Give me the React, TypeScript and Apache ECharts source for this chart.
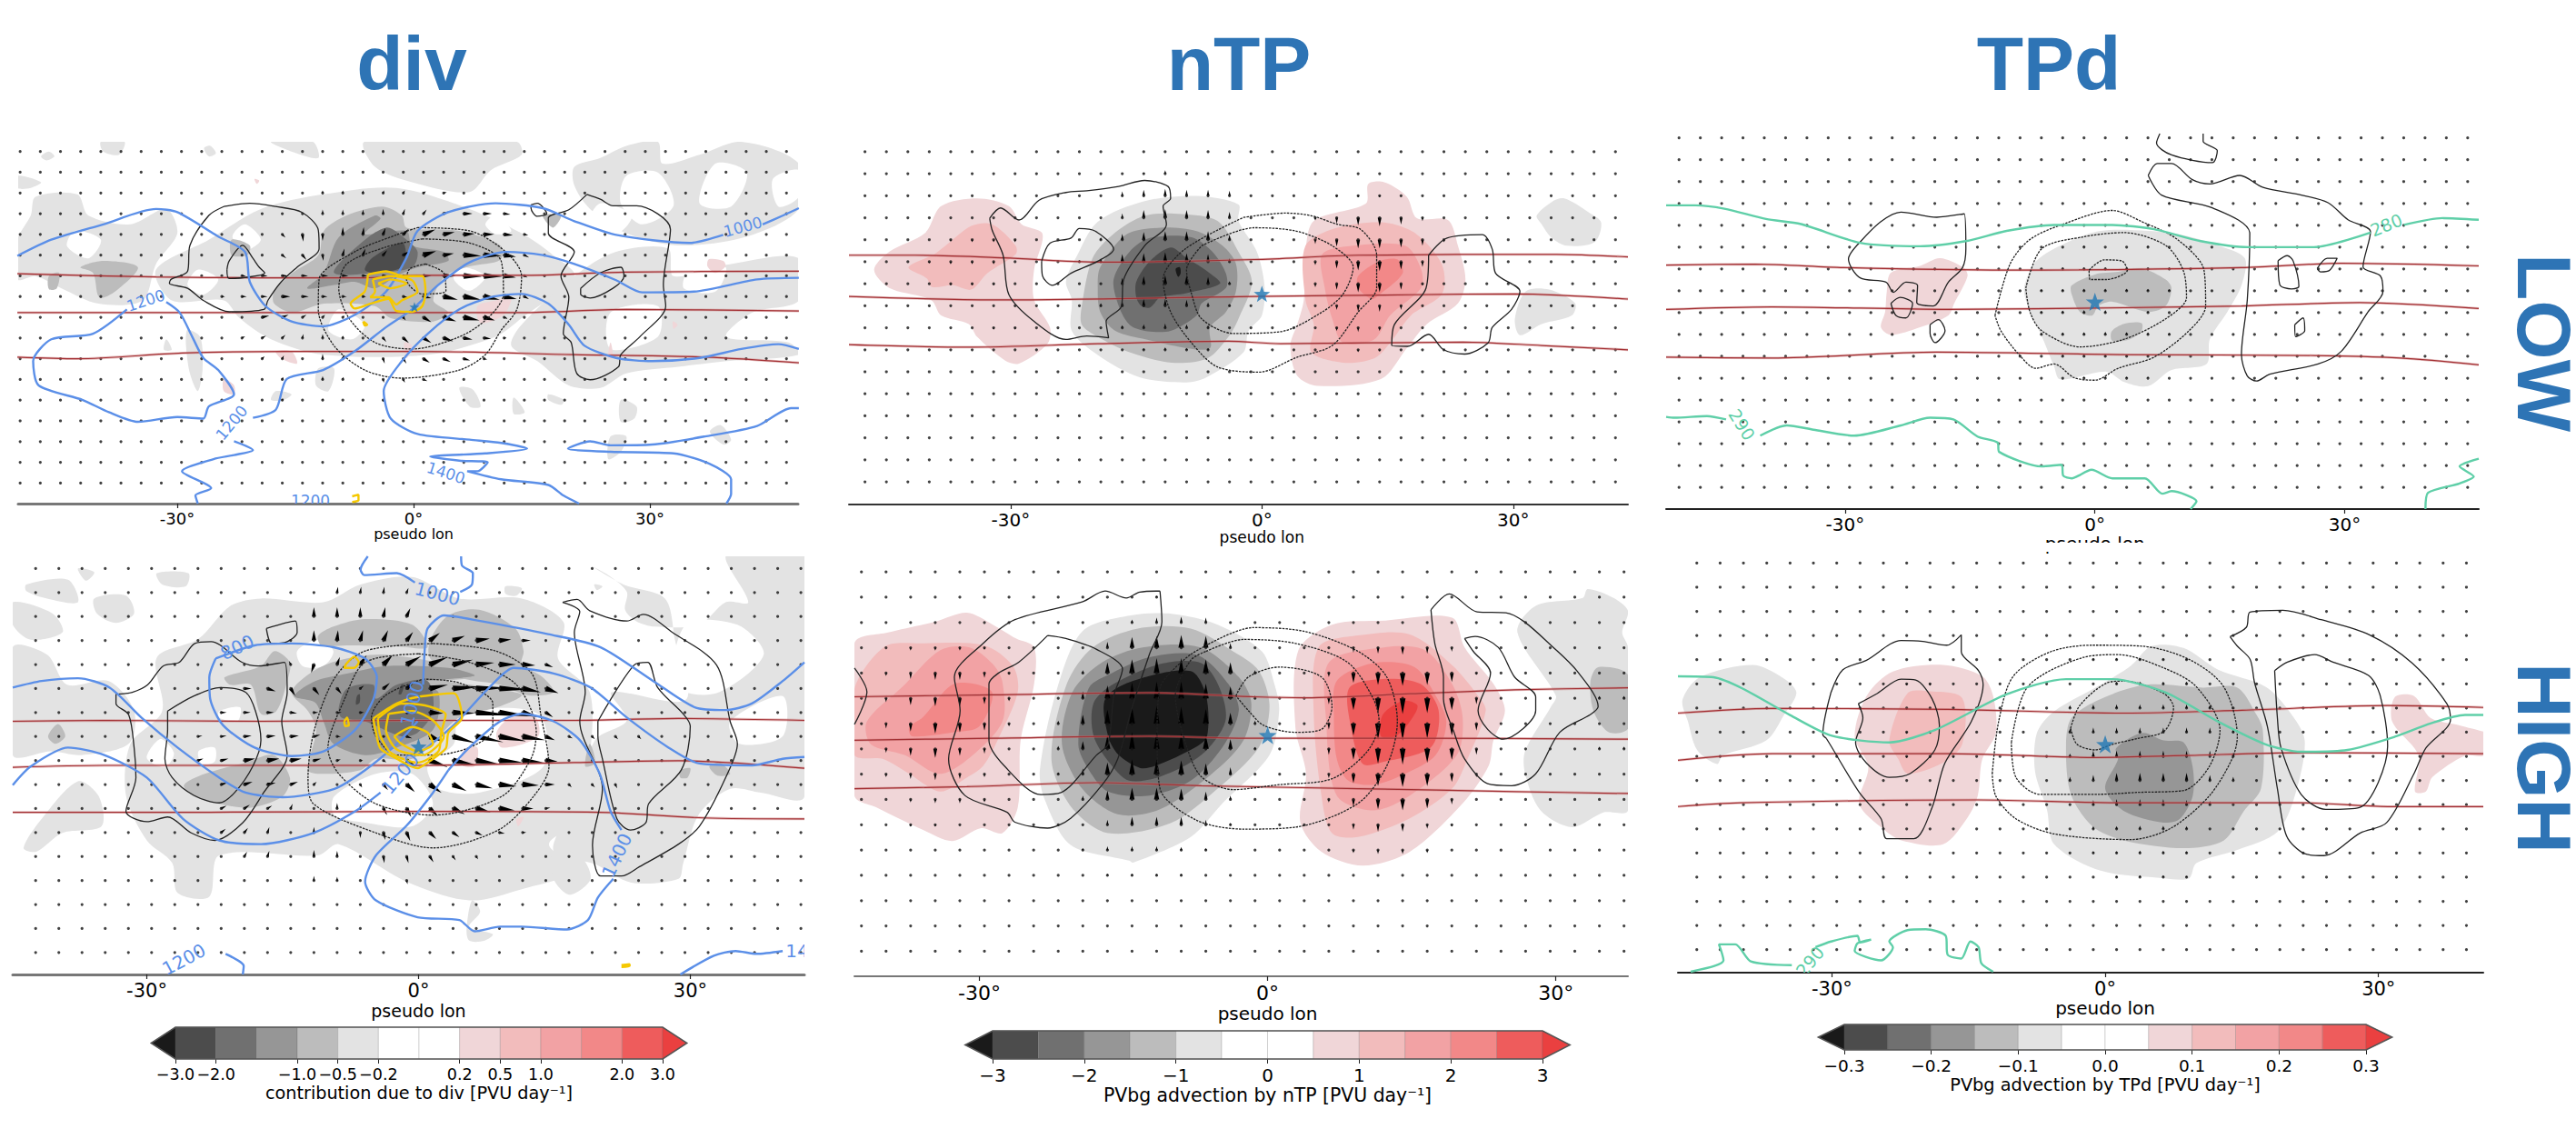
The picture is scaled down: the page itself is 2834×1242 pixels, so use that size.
import React, { useEffect, useRef } from "react";
import * as echarts from "echarts";

const gridLons = [-49.95,-47.39,-44.83,-42.27,-39.71,-37.15,-34.59,-32.03,-29.47,-26.91,-24.35,-21.79,-19.23,-16.67,-14.11,-11.55,-8.99,-6.43,-3.87,-1.31,1.25,3.81,6.37,8.93,11.49,14.05,16.61,19.17,21.73,24.29,26.85,29.41,31.97,34.53,37.09,39.65,42.21,44.77,47.33];
const gridLats = [19.2,16.64,14.08,11.52,8.96,6.4,3.84,1.28,-1.28,-3.84,-6.4,-8.96,-11.52,-14.08,-16.64,-19.2,-21.76];

const g1 = "#e3e3e3", g2 = "#bcbcbc", g3 = "#969696", g4 = "#707070", g5 = "#4c4c4c", g6 = "#1a1a1a";
const p1 = "#f0d6d8", p2 = "#f2bcbc", p3 = "#f2a2a4", p4 = "#f28888", p5 = "#ee5c5c", p6 = "#ea4040", wh = "#ffffff";

/* ---------- div, low ---------- */
const divLowG1 = [
[-19.4,12.1,-11.5,13.9,-2.2,14.7,7.1,12.1,13.7,9.1,17.7,6.4,20.4,3.8,13.7,-1.4,10.4,-3.7,1.8,-5.9,-11.5,-5.9,-18.1,-4,-22.1,-1.4,-24.1,.8,-30.7,.8,-32.7,4.6,-26,8.3],
[-48.6,11.3,-48,13.6,-42.7,13.9,-41.3,11.3,-36,10.2,-31.4,12.1,-30,9.1,-32.7,5.3,-34.4,.8,-40,.4,-44.7,2.3,-48,3.8,-50.3,3.4,-50.3,8.3],
[20.4,17.3,23.7,18.4,27,19.9,31,20.4,31.6,17.7,36.3,18.8,41.6,20.4,48.9,17.7,48.9,12.1,42.3,8.7,33.6,7.6,27,9.1,22.4,12.1,20.4,15],
[13.7,-2.2,20.4,3.8,25.7,6.8,32.3,7.2,33,3.8,40.3,5.3,48.9,6,48.9,.8,43,-.7,39.7,-3.7,47.6,-4.4,48.9,-5.9,39.7,-6.7,33.6,-7.4,27,-8.2,23.7,-10,19.7,-9.7,15.7,-6.7,12.4,-4.8],
[-6.2,20.4,13.1,20.4,13.7,18.8,9.8,16.9,7.1,14.2,-.2,15.4,-4.9,17.3],
[-39.7,20.4,-36.7,20.4,-37.4,18.8,-39.4,19.2],[-26.6,19.6,-25.8,19.9,-25.1,19,-26,18.6],[-47.3,18.6,-46.3,19.2,-45.6,18.6,-46.6,18.1],
[-18.1,20.4,-12.8,20.4,-12.1,18.4,-15.5,19.2],[-50.3,16.2,-47.3,15.4,-48.6,14.7,-50.3,14.7],
[-7.5,-16.8,-5.9,-17],[5.8,-10,7.5,-10.2,8.5,-12.3,7.1,-12.3],[12.7,-11.2,14.1,-13,12.7,-13.2],[26.3,-11.5,28.3,-12.3,28,-13.8,26.3,-14.2],
[25,-16,27,-16,26.3,-17.9,24.7,-18.8],[39,-14.6,40.3,-16.4,39.3,-17,37.6,-15.4],[-17.5,-10.4,-15.5,-10.8,-16.5,-11.5,-18.1,-11.5],
[-12.1,-7.6,-10.1,-7.6,-10.8,-10.4,-12.4,-9.7],[-28.8,-2.9,-27.1,-3.7,-26.8,-7.8,-27.4,-10.4,-28.5,-7.8],[-31.4,-4,-30.7,-5.3,-31.7,-5.3],[17.1,-10.8,19.1,-11.5,18.7,-12.1,17.1,-11.5],
];
const divLowHoles = [[-21.4,10.2,-19.4,8.3,-21.4,7,-23,8.7],[10.4,11.3,12.4,9.4,10.4,9,9.1,10.2],[-9.5,-.3,-6.2,-2.2,-7.8,-4,-10.8,-2.9],[5.8,5,9.1,3.8,7.1,2,5.1,3.4],[-27.4,4.6,-24.8,3.4,-26.7,1.5,-28.7,2.7],[-43,9.4,-39.7,8.3,-41.3,6,-44,7.5],[23.7,12.8,27.7,11.3,25.7,9,22.4,10.6],
[27,16.2,31,16.6,33,12.5,29,10.2,26.3,12.8],[38.3,17.7,42.3,16.6,40.3,12.4,36.3,12.8],[45.6,15.8,48.9,16.9,48.9,13.6,46.3,12.4],[35,4.6,39.6,4.9,38.3,1.9,34.3,2.3],[25,-.7,31,.1,31,-3.7,25,-5.2]];
const divLowG2 = [
[-17.7,1.9,-15.4,4.2,-12.1,6.4,-11.4,9.4,-8.5,11.3,-4,12.4,-1.5,11.3,-.9,9.8,5.8,9.4,11,7.6,11,5.8,7.1,5,4,3.8,2.5,.8,4.4,-.7,2.5,-1.8,-2.9,-1.4,-4.9,.1,-11.4,.4,-15.4,-.7,-17.7,.4],
[-42.3,4.9,-39.4,5.7,-35,4.9,-37.9,1.9,-39.9,1.2,-40.7,4.2],[-23.1,8.3,-20.8,7.6,-21.1,6.4,-23.1,6.4],[16.4,11.3,18.7,11.3,17.7,9.8],[-46.3,3.8,-45,4.2,-45.3,2.3,-46.3,2.2],
];
const divLowG3 = [[-13.5,2.3,-11.4,4.2,-9.5,8.6,-4.9,11.3,-4.2,10.9,-6.2,9,-.9,9.4,-.2,7.6,3.8,6.8,4.4,5.7,.5,4.9,-2.2,3.8,-4.9,2.3,-7.5,3.1,-10.1,2.7]];
const divLowG4 = [[-10.1,4.2,-7.5,7.2,-3.5,9.8,-.9,8.3,.5,6.8,-.2,4.9,-4.9,4.2]];
const divLowG5 = [[-6.2,4.6,-5.2,6.1,-1.5,8,-1,6.9,-1.5,4.9,-4.9,4.2]];
const divLowP1 = [[37.5,5.9,39.3,5.7,39.6,5,38.3,4.2,37.3,5],[8.1,.1,10.4,.8,12.4,1.2,11.4,-1,8.5,-2],[-17.5,-5.5,-15.5,-5.5,-14.8,-7,-16.8,-6.4],[-24.1,-8.9,-22.8,-9.7,-22.8,-10.8,-24.1,-10.4],[-20.2,15.8,-19.6,15.6,-19.9,15.2],[32.9,-1.8,33.5,-2.2,33,-2.7],[25,-4.4,25.3,-6.3,24.7,-6.3],[-1.2,-4.4,-.2,-4.8,-.9,-6.3]];
const divLowSolid = [
[-24.1,12.4,-20.8,12.8,-17.5,12.4,-14.2,11.7,-12.1,9.5,-12,7.2,-14.8,4.9,-16.8,3.1,-18.5,.8,-19,-.3,-23.4,-.6,-26.7,.8,-28.7,2.3,-31,2.9,-30.8,3.4,-28.7,4.4,-28.4,7.6,-26,11.3],
[-23.7,4.6,-23.4,5.7,-21.7,7.6,-20.4,6,-19.6,4.9,-18.9,4.2,-23.4,3.5],
[22,13.9,23.7,13.3,25.3,12.5,28.3,12.5,32.6,9.6,31.7,2.7,32,.1,28.7,-3.7,26.3,-5.9,26,-7.4,22.4,-9,20.7,-8.2,20,-4.4,19,-3.3,19.7,1.2,18.7,3.8,20.4,6.8,17.1,9.1,17.1,11,19.7,12],
[21.2,2.3,23.7,4.2,26.3,4.9,26.7,3.8,25.3,2.3,22.4,1.1,21.2,1.6],
[14.9,12.6,15.7,12.8,16.9,11.5,15.7,11.2,14.9,12.2],
];
const divLowDotted = [
[.5,9.8,7.1,9.4,11.7,6.8,13.7,3.8,13.1,-.3,11.1,-2.9,9.1,-5.9,5.8,-7.8,-1.5,-8.8,-6.2,-7.8,-10.1,-4.8,-12.1,-.3,-12,3.4,-7.5,6.8,-2.2,8.9],
[1.1,8.4,7.1,7.9,11.1,5.7,11.4,1.6,9.4,-1.4,5.8,-3.7,-.2,-5.2,-4.9,-4.4,-8.2,-1.4,-9.5,2.3,-8.5,5.3,-3.5,7.4],
[1.5,5.3,3.8,4.2,4.1,2,1.1,1.6,-.9,3.4,-.5,4.7],
];
const divLowBlue = [
[-50.3,6.3,-46,8.3,-39.4,10.2,-32.7,12.1,-30,11.7,-24.8,8.7,-21.4,6.8,-20.8,3.1,-18.8,.1,-15.5,-1.8,-11.5,-2.4,-7.5,-1,-3.5,1.9,-.9,6.1,.5,9.4,4.4,11.7,10.4,12.8,16.4,12.2,20.4,10.6,25.7,8.9,35,7.9,39.3,8.9],
[44.3,10.2,46.9,11.3,48.9,12.2],
[48.9,3.6,43.6,3.4,35.6,1.9,29,1.8,25.7,3.3,20.4,5.3,16.4,6.4,11.7,6.8,7.1,5.5,3.1,2.7,-.2,-.3,-3.5,-2.5,-7.5,-5.5,-11.5,-7.8,-16.1,-8.9,-17.5,-12.7,-20.4,-13.7],
[-22.8,-16.6,-20.4,-17.7,-22.8,-18.3,-25.4,-18.8,-29.4,-20.3,-25.7,-22.4,-27.7,-23.3,-27.4,-24.3],
[-36.4,-.3,-40.7,-3.3,-46,-4,-48.3,-6.7,-47.6,-9.7,-42,-11.5,-38.7,-13,-35,-14.2,-30,-13.6,-26.7,-13.8,-26,-12.3,-22.8,-10.8,-24.8,-7.8,-26.7,-6.3,-28.1,-3.7,-29.7,-.7,-31.4,.6],
[48.9,-5.2,46.3,-4.6,41.6,-5.2,36.3,-6.3,30.3,-6.7,25.7,-6.3,21.7,-4.8,19.7,-2.2,17.1,.4,13.7,1.6,9.8,1.2,5.8,-.3,1.8,-3.3,-1.5,-6.7,-3.8,-10.4,-2.9,-13.8,.5,-15.7,7.1,-16.4,11.1,-16.8,14.4,-17.5,9.1,-18.1,2.1,-18.5,5.8,-19,9.4,-19.2,8.1,-20.3,6.8,-20.3,11.1,-21.3,17.1,-22,19,-23.3,21,-24.3],
[48.9,-12.5,47.9,-12.5,43.6,-14.7,37,-16,30.3,-17,25,-17.1,22.4,-16.6,19.6,-17.5,25,-17.9,33,-18.1,37.6,-19.4,40.3,-21.3,40.3,-23.1,39.7,-24.3],
];
const divLowLabels: any[] = [[41.8,9.9,"1000",15],[-34,.8,"1200",18],[-23.1,-14.3,"1200",50],[4.1,-20.5,"1400",-18],[-13.1,-24,"1200",0]];
const divLowRed = [
[-50.3,4.1,-32.7,3.7,-19.4,3.6,-6.2,3.6,.5,3.9,13.7,3.9,27,4.3,48.9,4.4],
[-50.3,-.7,-32.7,-.7,-12.8,-.7,.5,-.7,13.7,-.7,27,-.3,48.9,-.5],
[-50.3,-6.2,-42.7,-6.4,-29.4,-5.7,-16.1,-5.5,.5,-5.5,20.4,-5.9,37,-6.2,48.9,-6.9],
];
const divLowYellow = [
[-5.8,4,-3.5,4.4,-1.2,3.8,1.1,3.8,1.5,1.9,1.1,.1,-.2,-.6,-2.2,-.5,-3.2,1,-5.5,.4,-7.5,-.2,-8,.4,-6.2,1.9,-5.8,4],
[-5.2,3.4,-2.9,3.8,-.2,3.3,.5,1.9,-1.5,.8,-2.2,.3,-3.2,1.2,-5.5,1.2,-4.9,1.9,-5.2,3.4],
[-4.5,2.9,-2.9,3.4,-.9,2.9,-2.9,2.3,-4.5,2.9],
[-6.4,-1.8,-5.9,-2.2,-6.2,-2.3,-6.4,-1.8],[-7.8,-23.4,-7,-23.2,-7,-23.9,-7.8,-24.1],
];
const divLowStar = [.1, 0];
const divLowQuiver: any[] = [
[2,-5,[0,.3,0,.3,0,.3,.1,.3,.2,.3,.3,.2,.4,.1]],
[3,-5,[0,.5,0,.5,0,.5,0,.6,.2,.6,.4,.5,.8,.3,1.1,0,1,0,.8,-.1,.3,0]],
[4,-7,[.4,-.4,.1,-.9,0,-.8,0,.9,.1,.9,.3,.8,.7,.7,1.5,.6,1.4,.3,1.4,.1,1.3,0,1.1,-.1,.5,-.1]],
[5,-7,[.5,-.4,.5,-.6,.1,-.7,.2,.8,.3,.8,.5,.6,.8,.5,1.6,.5,1.3,.2,2.2,-.1,2.2,-.1,1.5,-.2,.6,-.3]],
[6,-9,[.5,0,.7,0,.8,0,.7,0,.7,0,.7,0,.6,0,.7,0,.8,0,1,0,1.5,0,2.3,-.1,2.3,-.1,1.5,-.2,.4,-.2]],
[7,-10,[.4,0,.6,0,.7,0,1,0,.8,0,.6,0,.5,0,.4,0,.4,0,.6,-.1,1,-.2,1.8,-.4,2.2,-.4,2,-.4,1.6,-.3,.6,-.3]],
[8,-8,[.9,.2,.8,.3,.5,.3,.3,.3,.2,.2,0,0,0,0,.3,-.4,1,-.6,1.6,-.5,2,-.4,1.4,-.4,.5,-.2]],
[9,-9,[.4,.2,.5,.3,.4,.4,.1,.5,0,.5,0,.3,0,0,.4,-.5,.7,-.6,1,-.6,1.2,-.4,1.1,-.2,.9,-.1,.3,0]],
[10,-8,[.3,.3,.2,.4,0,0,0,.6,.1,.5,0,0,.2,-.6,.4,-.6,.8,-.5,.9,-.4,.8,-.2,.4,-.1]],
[11,-7,[.1,.3,0,0,0,.4,.1,.3,0,0,.1,-.4,.2,-.4,.5,-.2]],
[12,-7,[.1,.2,0,0,.1,.2,0,0,0,0,.1,-.2]],
];

/* ---------- div, high ---------- */
const divHighG1 = [
[-28.9,9.7,-24.3,11.7,-20.8,15.2,-17.4,16,-10.5,15.6,-6.4,17.5,-.7,18.3,4.5,16,11.4,16,16,13.5,15.4,9.6,18.9,6,18.9,-1.1,17.8,-7.5,14.4,-10.2,17.3,-13,11.4,-15,5.6,-16.2,-1.3,-14.2,-8.8,-10.2,-11.1,-11.4,-22,-11.4,-23.1,-15.8,-26.6,-15.4,-27.2,-12.2,-30,-9.8,-32.3,-5,-31.8,.5,-28.3,4]
,[-44.8,10.8,-41,10,-38.8,6.8,-34.2,7.2,-31.4,4,-32,.5,-37.2,-.7,-40.6,-.3,-44.8,-.7],
[-43.6,-10.6,-41.6,-7.5,-37.6,-3.5,-35.3,-5.1,-35,-8.3,-39.3,-9,-42.2,-11],
[-44.8,15.6,-40.4,14.4,-39.3,12.4,-42.8,11.6,-44.8,13.2],[-43.3,17.5,-38.7,18,-37.6,15.6,-41,16,-43.3,16.8],[-35.8,16,-32.3,16.3,-31.4,14.4,-33.4,13.4,-35.5,14.4],[-37.6,19.2,-35.8,18.8,-36.7,17.9],[-28.9,18.7,-25.4,18.7,-25.7,17.3,-28.3,17.5],
[19.2,19.4,21.1,18.4,23,16.7,22.8,14.8,24,13.6,26.1,13,31,13.2,33.9,15.6,36.4,15.6,33.9,20.5,37.6,20.5,42.6,20.5,42.6,-5.1,37.8,-4.7,34.4,-4.3,30.9,-7.1,29.2,-12.3,28.7,-13.9,23.5,-14.3,19.4,-12.3,14.9,-11,17,-5.9,19.5,.9,23,3,21.3,6,29.5,5.2,28.3,11.6,27.2,16,22.6,17.5],
[9.6,17.3,11.4,17.1,10.8,16.3,9.6,16.5],[19.4,17.5,20.3,17.3,19.7,16.9],[5.9,-16.2,6.8,-17.4,5.6,-19,8.2,-19.8,7.3,-20.5,5.6,-20.5,5.3,-19.3],
[14.9,-11,17.8,-11.4,19,-13.9,16.7,-15.6,14.9,-13.9],
];
const divHighHoles = [
[-22,4,-19.7,4.4,-20,2.9,-22,3.3],[-24.3,-.3,-22.5,.1,-22.5,-1.4,-23.9,-1.7],[-13.4,10.4,-11.1,11.6,-9.4,10.4,-10.5,8.8,-12.8,8.8],
[4.5,3.7,13.2,3.7,13.8,-1.9,6.7,-4.7,2.2,-4.3,1,-1.9,3.9,.5],[-9.3,-5.1,-4.7,-2.7,-.7,-2.7,1.6,-5.9,-.7,-8.3,-5.9,-7.9,-9.3,-7.1],
[29.5,13.2,35.2,13.2,38.1,10,32.9,5.9,28.3,6.7],[34.4,2.9,40.2,5.6,40.2,1.3,35.4,.5],[-30,-1,-28,-2,-27,-.5,-28.5,1],
];
const divHighG2 = [
[-11.1,12,-9.4,13,-5.9,13.8,-.7,13.2,1,10.8,-2.4,10.9,-7.9,11,-10.7,11],
[1.3,11.6,3.3,14.2,6.7,14.8,10.7,12.8,11.6,10.4,11.4,9,13.7,7.6,14.9,6,12,5.7,9,6.8,4.5,7.6,1.3,9.6],
[-14,6,-11.7,8.2,-8.8,9.4,-3.6,10,5.6,8.4,5.9,7.6,3.3,7.2,8.5,6.4,11.4,5.7,9,4.5,4.5,3.3,2.2,1.3,-.7,-1.1,-4.7,-1.1,-6.4,-2.3,-10.5,-2.7,-12.2,-2.3,-11.3,2,-12.2,4],
[-25.9,-3.9,-23.6,-2.7,-19.1,-1.5,-16,-.7,-14.2,-3.1,-15,-5.1,-18.5,-6.3,-22,-5.9,-24.8,-5.1],
[-21.4,7.6,-17.4,8.8,-15.9,10.4,-14.2,9.2,-14.5,7.2,-15.7,4,-17.4,3.7,-18.5,6.8,-20.8,6.8],
[-40.9,1.3,-39.8,2.6,-39,1.3,-40.1,.5],[33.3,-1.5,34.4,-2.7,33,-2.9,32.1,-1.9],[18.9,.5,19.5,-1.5,18.4,-1.9],[28.9,-2.3,30,-2.1,29.7,-3.1,28.9,-3.1],
];
const divHighG3 = [[-13.7,5.6,-11.4,7.2,-7.9,8,-3.6,8.8,3.3,8.6,6.2,7.8,3.3,7.4,-.1,7,2.2,6,1.6,2,-2.4,.1,-5.9,-.7,-9.4,.5,-10.5,2.9,-11.4,4.9]];
const divHighG4 = [[-8.8,4.4,-7.9,6.4,-5,6.8,-4.7,5.3,-2.4,6.8,1,7.2,1.6,4,-.1,1.7,-1.9,1.3,-5.9,2.9,-8.5,3.3]];
const divHighG5 = [[-6.8,5.6,-6.5,5.8,-6.5,4.9,-6.9,4.7],[-1.9,6.8,-1.6,6.8,-1.9,5.8,-2.2,5.8]];
const divHighP1 = [[10,3.2,12.7,3.7,13.2,1.3,9.2,.1,8.6,1.7],[5,-.1,6.5,.1,6.2,-1.9,4.7,-1.7],[10.8,-7.5,11.6,-7.3,11,-8.3]];
const divHighSolid = [
[-33.4,5.8,-31.6,6,-29.9,6.8,-28.2,8.8,-26.4,9.2,-24.7,11.2,-22.9,11.4,-19.5,9.2,-17.7,8.8,-14.8,9.2,-14.5,6,-15.1,2.9,-14.5,-.7,-17.1,-4.7,-19.4,-7.9,-22.5,-9.8,-25.1,-9,-27.7,-7.3,-30,-7.8,-32.3,-6.7,-31.2,-3.1,-31.4,.1,-32,3.6,-33.4,4.8],
[-27.7,4,-24.8,5.6,-21.9,6.5,-19.1,6,-18,4,-17.4,.9,-18.3,-1.9,-20.3,-4.7,-22,-5.8,-24.8,-5,-27.2,-3.1,-28,-1.1,-27.7,2],
[-16.8,12.8,-13.6,13.6,-13.4,12.4,-14.5,11.4,-16.2,11.2],
[15.9,15.6,17.5,15.9,18.9,14.7,23,13.6,24.8,14.3,28,12.4,32.9,8.9,34.4,2.9,35.2,.5,33.9,-3.1,31,-8.3,28.7,-10.2,24.4,-12.6,22.4,-13.6,20.1,-13.6,19.2,-10.3,20.3,-4.3,17.8,2.9,18.4,6,17.2,12.4,17.8,14.6],
[19.8,2.9,23.8,8.9,25.3,9.2,26.4,6.5,29.3,3.6,30,2.4,29,-2.3,25.4,-5.9,25.1,-7.9,23.4,-8.7,21.9,-7.5,20.3,-1.1,19.8,1.3],
];
const divHighDotted = [
[1.6,11.2,8.5,10.4,12.5,8,13.5,3.6,14.4,-1.9,12.7,-5.1,8.8,-8.7,1.6,-10.6,-4.7,-9,-11.6,-5.9,-12.2,-3.1,-11.5,2,-9.2,7.6,-5.9,10.4],
[0,10.1,5.6,9.2,10.8,6.8,13,1.7,12.4,-1.1,9.2,-5.1,1.6,-7.1,-4.7,-5.9,-8.8,-2.7,-10,0,-8.2,5.2,-5.9,9.2],
[.5,7.4,4.5,7,8.2,4.8,8.2,2,5.6,.1,1.6,-.7,-2.4,-.7,-4.7,1.3,-5.2,3.3,-3.6,5.7],
];
const divHighBlue = [
[-44.8,6.5,-41.6,7.2,-37.6,7.5,-34.1,6.5,-30.6,3.3,-26.6,.1,-22,-3.1,-19.1,-4.7,-15,-5.2,-9.3,-4.3,-5.9,-2.3,-2.4,.5,-.1,2.9],
[.5,6.8,.7,10.8,1,12.8,2.8,14.2,6.8,13.6,14.3,12.2,20.1,10.8,25.9,7.2,30.5,4.4,33.9,4.1,36.8,4.8,40.2,7.2,42.6,9.2],
[-22.4,9.6,-18.1,11,-14,11.2,-9.4,10.8,-5.9,9.6,-4.6,7.6,-5,5.2,-7,2,-10.5,-.3,-14,-.8,-18.1,.1,-21.6,2.5,-23,5.3,-23.1,7.6,-22.4,9.6],
[-44.8,-3.9,-42.8,-1.9,-38.7,.1,-34.7,-.7,-30,-3.1,-26,-7.5,-22,-9.8,-17.4,-10.2,-11.6,-9,-7,-6.7,-4.2,-4.7],
[-.1,-.7,3.9,2.5,7.9,6.6,10.5,8.6,14.9,8,19,6.5,23,3.3,27.6,.1,31,-1.6,36.8,-1.8,40.2,-1.1,42.6,-.9],
[3.3,-2.3,5.6,.1,9,2.9,11.4,3.7,14.9,2.9,17.8,.9,20,-2.7,21.2,-6.7,22.4,-8.7],
[21.5,-13.9,19.8,-15.9,18.7,-18.3,16.4,-19.3,11.4,-19,9,-19,6.2,-19.5,4.5,-18.3,-.1,-18,-4.7,-16.2,-5.9,-14.2,-4.7,-11.4,-1.3,-8.2,1.6,-4.7,3.3,-2.3],
[-5.6,20.5,-6.4,19.1,-6,18.5,-2.4,18.7,-.4,17.7],[4.6,16.7,5.9,17.5,6,18.7,4.8,19.5,4.7,20.5],
[-21.3,-21.9,-19.3,-23.2,-19.4,-24.1],
[28.9,-24.1,32.6,-22.1,35,-21.6,37.3,-21.9,40.2,-21.6],
];
const divHighLabels: any[] = [[-20,10.8,"800",25],[-.7,4.8,"1000",75],[-2,-2.7,"1200",50],[21.9,-11.4,"1400",65],[2.1,16.5,"1000",-15],[-25.9,-22.5,"1200",28],[41.8,-21.6,"14",0]];
const divHighRed = [
[-44.8,2.9,-34.7,3,-17.4,2.9,-.1,3,17.2,3,28.7,3.2,42.6,3],
[-44.8,-2,-34.7,-1.8,-17.4,-1.8,-.1,-1.8,17.2,-1.5,28.7,-1.3,42.6,-2.1],
[-44.8,-6.8,-23.1,-6.8,-.1,-6.7,19.9,-6.8,31.5,-7.4,42.6,-7.5],
];
const divHighYellow = [
[-5,3.2,-2.4,4.8,-.1,5.5,3.9,5.9,4.8,3.3,3.3,1.7,3,0,1,-1.5,-.1,-2.1,-2.4,-1.1,-4.2,0,-4.7,1.7,-5,3.2],
[-4.5,3.2,-1.9,4.8,.7,4.6,3,3.6,2.5,1.7,2.2,-.3,-.1,-1.5,-3,-.5,-4.2,1.3,-4.5,3.2],
[-3.3,3.7,-.7,4,1.6,3,2.8,1.3,.5,-.7,-2.4,-.1,-3.6,2,-3.3,3.7],
[-2.7,1.3,-.7,2.3,1,1.7,1.6,.5,-.1,-.3,-1.9,.5,-2.7,1.3],
[-8,9,-7.1,9.8,-6.6,9.2,-7.1,8.6,-8.2,8.6,-8,9],[-8.2,2.9,-7.9,3.3,-7.7,2.5,-8.1,2.4,-8.2,2.9],[22.4,-23.1,23.3,-23,23.3,-23.2,22.4,-23.3],
];
const divHighStar = [0, .2];
const divHighQuiver: any[] = [
[1,-4,[.1,.6,.1,.6,.1,.6,.2,.5]],
[2,-5,[0,1,0,1,0,1,.2,1,.4,.9]],
[3,-5,[0,1.1,.1,1.1,.3,1.1,.5,1.1,.7,.9,1.1,.8,1.3,.5,1.5,.2,1.3,.1,.9,0]],
[4,-6,[-.2,.4,-.3,-.9,.3,.8,.7,1,1,1,1.6,.9,2,.8,2.2,.5,2,.2,1.8,0,1.4,-.1,.8,-.3]],
[5,-8,[.8,0,.9,-.3,.5,-.8,.6,-.7,.5,-.6,.4,.3,.7,.6,.8,.7,2,.4,3,.2,3.5,.1,3.3,-.1,2,-.4,1.4,-.5]],
[6,-9,[.6,0,.7,0,.7,0,.7,-.1,.5,0,.5,0,.4,0,.3,0,.8,0,1.5,-.1,2.5,-.1,4,-.3,3.5,-.4,1.8,-.5,.8,-.5]],
[7,-10,[.5,.1,.6,.1,.8,.1,.9,.1,.9,.1,.7,.2,.4,0,.3,0,.2,0,.6,-.2,1.4,-.5,2.5,-.7,3,-.6,3,-.5,2.5,-.4,1,-.4]],
[8,-10,[.6,.2,.8,.2,1.2,.2,1.3,.2,1.2,.2,.8,.2,.4,.1,.3,0,.3,-.2,1,-.6,2,-.7,2.6,-.5,2.6,-.4,2.6,-.2,2.3,-.2,1.3,-.1]],
[9,-9,[.7,.2,.9,.3,.9,.2,.8,.3,.3,.3,0,0,.2,-.3,.5,-.6,.9,-.8,1.3,-.9,1.5,-.7,1.8,-.4,1.9,-.2,1.8,-.1,1,0]],
[10,-9,[.6,.3,.6,.4,.5,.3,.2,.5,0,0,0,.6,0,.5,.4,-.7,.5,-.9,.9,-.8,1.3,-.6,1.6,-.4,1.7,-.2,1.2,0,.5,.1]],
[11,-9,[.5,.4,.4,.5,.2,.6,0,0,0,.6,0,0,0,-.6,.2,-.8,.4,-.9,.7,-.7,.7,-.5,.7,-.3,.6,-.1,.4,0]],
[12,-8,[.3,.5,.2,.6,0,0,0,.7,0,.6,0,0,.1,-.7,.2,-.7,.4,-.6,.3,-.4,.2,-.3]],
[13,-5,[0,.5,0,.4,0,0,0,-.4,.1,-.4]],
[7,6,[.4,-.2,.3,-.3,.3,-.3,.3,-.3]],[9,6,[.3,-.3,.3,-.3,.2,-.4]],
];

/* ---------- nTP, low ---------- */
const ntpLowFills: any[] = [
[p1,[[-46.3,2.9,-44.5,5,-40.2,7.2,-38.3,10.3,-34,11.2,-30.2,10.3,-28.7,8.2,-26.2,7.1,-27.2,2.9,-27.2,-.6,-25.3,-3.8,-25.6,-5.7,-29,-8,-30.6,-7.7,-34,-4.9,-35,-3.4,-38.3,-2.4,-39.5,-.6,-44.5,.8],
[5,-.6,5.2,5,6.2,8.6,12.4,10.6,12.7,12.9,14.6,13.1,17.3,11.4,18.5,8.9,22.2,8.7,23.4,5.7,24.3,1.8,23.4,-1,19.7,-3.4,17.3,-6.2,14.2,-9.8,6.7,-10.6,4.2,-9.4,3.4,-5.9,4.2,-3.5]]],
[p2,[[-42.2,3.2,-39,4.8,-34.7,8,-32.2,8.2,-29.4,5.7,-29.4,4.7,-32.8,2.5,-34.7,.6,-36.9,1.1,-39.4,.9,-40,1.9],
[5.2,5.7,9,7.8,14.6,8.4,18.4,7.1,21.5,3.5,21.5,.1,17.8,-2.4,15.3,-5.6,13.4,-7.4,9.7,-7.9,5.9,-6.7,6.2,-3.5,5.2,-.6]]],
[p3,[[7.2,4.7,10.9,5.7,17.1,5.7,19,3,19,.8,15.3,-2.4,13.4,-5.2,9.7,-5.6,8.4,-2.8,7.5,.8]]],
[p4,[[11.5,2.2,14,3.9,16.2,4.1,16.8,2.5,14,0,13.1,-.5,11.5,.8]]],
[g1,[[-23.4,1.5,-22.2,4.3,-19.6,8.5,-14,10.9,-7.8,11.5,-2.8,10.5,-2.8,8.6,-.6,5,.3,1.1,0,-2.4,-1.6,-4.2,-2.2,-6.7,-6.6,-9.6,-9,-10.2,-14.6,-9.6,-19.6,-7,-22.7,-4.2,-22.7,-.6],
[32.8,9.2,34.6,10.8,36.1,11.2,39,9.6,40.5,8.4,39.7,6.1,36.4,5.7,34.6,6.6,33.4,8.2],[30.2,-2.8,31.5,.4,34.3,.6,37.4,-1,37,-2.4,33.4,-3.4,30.8,-4.7]]],
[g2,[[-21.5,-1.3,-20.2,4.3,-17.7,7.1,-14,9.2,-9.6,9.4,-5.3,8.6,-2.8,5,-1.2,1.5,-2.8,-2.8,-4,-4.9,-6.5,-7.4,-10.8,-7.9,-15.8,-6.7,-19.6,-4.9,-21.5,-3.5]]],
[g3,[[-19.6,.8,-19.3,3.2,-16.2,7,-12.1,7.8,-7.8,7.4,-4.7,5.7,-3.1,3.6,-3.1,.4,-4.3,-2,-6.2,-3.8,-6.2,-6.2,-9,-6.2,-13.8,-5.2,-17.5,-4.2,-19.3,-2.0]]],
[g4,[[-17.1,-1.3,-17.7,1.8,-15.8,5,-13.4,6.6,-8.4,6.7,-5.9,5,-4.3,2.5,-4.3,.8,-7.2,-1,-7.8,-2.4,-10.9,-4.2,-14,-4.2,-15.8,-3.5]]],
[g5,[[-15,-.3,-15,1.5,-13.4,3.9,-10.9,5.5,-9,4.3,-6.2,2.5,-5,1.3,-9,.2,-12.1,-.3,-13.4,-1.5,-14.4,-1.3]]],
[g6,[[-10.3,3,-9.8,3.2,-9.7,2.5,-10,2.1]]],
];
const ntpLowSolid = [
[-32.5,8.9,-31.2,10.1,-29,8.7,-26.6,11,-23.4,11.9,-20.9,12.1,-17.1,12.6,-14,13.3,-11.2,12.6,-10.9,11.2,-11.8,10.3,-11.4,8.2,-14,5.7,-16.5,1.8,-16.8,-1.4,-18.6,-3.1,-18.3,-5,-20.9,-4.8,-23.4,-5.2,-27.2,-3.1,-30.2,0,-30.9,4.6,-32.2,7.5],
[-26.3,3.9,-25.3,6,-22.8,6.6,-21.8,7.7,-19.9,7.4,-17.7,5.3,-19.6,3.9,-22.8,2.5,-25,1.1,-26.2,2.2],
[19.9,4.6,22.1,6.6,26.3,7,27.5,5.3,27.9,2.5,30.8,.4,29.8,-1.7,27.5,-3.8,27,-5.6,24.2,-6.9,21.7,-6.4,19.9,-4.6,17.4,-6,15.5,-5.9,15.8,-3.5,19.6,.8],
];
const ntpLowDotted = [
[-2.2,9,2.8,9.5,5.9,9.2,9,8.2,11.8,7.6,13.7,4.6,13.7,.8,11.5,-2,8.4,-5.9,4.1,-7.3,-.3,-9,-5.3,-8.4,-8.4,-5.6,-10.9,-2,-11.8,1.8,-9.2,5.3],
[-7.2,5.7,-.9,7.8,4.1,7.4,8.4,5.7,10.9,3.2,9.7,.1,7.2,-2,2.2,-4.3,-3.4,-4.5,-7.2,-2.8,-8.4,.1,-9,2.9],
];
const ntpLowRed = [
[-49.3,4.6,-41.4,4.6,-30.8,4.3,-19.6,3.8,-.9,4.1,11.5,4.6,35.2,4.7,43.7,4.4],
[-49.3,-.2,-32,-.6,-.9,-.2,17.8,0,30.2,.1,43.7,-.5],
[-49.3,-5.8,-35.2,-6.1,-19.6,-5.7,-4,-5.4,2.2,-5.7,24,-5.5,33.4,-5.9,43.7,-6.4],
];
const ntpLowStar = [0, .1];
const ntpLowV: any[] = [
[2,-6,.12,.4,.2,.2,.2],
[3,-7,.5,.7,.8,.7,.7,.6],[3,3,-.2,-.2,-.2],
[4,-7,.5,.9,1,.9,.9,.7],[4,2,-.3,-.7,-.9,-1,-.8,-.4],
[5,-8,.3,.7,.9,1,1,1,.6],[5,2,-.5,-.8,-1,-1,-.9,-.7,-.3],[5,-15,-.2,-.3,-.3,-.3],
[6,-9,.2,.4,.9,1,1.1,1,.9,.4],[6,2,-.4,-.8,-1,-1.1,-.9,-.6],[6,-16,-.2,-.3,-.3,-.3],
[7,-7,.7,.9,1,1,.8,.3],[7,2,-.4,-.7,-1,-1,-.7,-.2],[7,-15,-.2,-.2,-.2],
[8,-8,.3,.6,.8,.8,.7,.4,.2],[8,3,-.5,-.7,-.7,-.5],
[9,-7,.3,.4,.5,.4,.3],[9,3,-.4,-.5,-.4],[9,-13,-.2,-.2],
[10,-6,.2,.3,.2,.2],[10,3,-.2,-.3,-.2],
];

/* ---------- nTP, high ---------- */
const ntpHighFills: any[] = [
[p1,[[-43,9.4,-39.5,10.5,-34.6,11.6,-31.3,12.5,-28.6,11.3,-26.2,9.9,-24.3,9,-24.3,5.3,-25.7,-.4,-26,-7.2,-27.6,-9.8,-29.8,-9.3,-32.8,-10.6,-35.8,-9.5,-40.7,-7.2,-43,-6]]],
[p1,[[2.9,.8,3.2,8.7,6.7,11.3,12.1,11.7,19.2,12,20.5,9,23.5,5.3,24.7,2.6,23.5,-.4,23,-3,20.3,-6.8,14.8,-11.7,9.9,-13.1,5.6,-11.7,3.4,-8.7,4,-3.8]]],
[p2,[[-39.8,9.1,-36,9.4,-29.5,9.2,-26.5,7.1,-26,4.5,-28,-.2,-29.6,-3,-31.5,-4.3,-34.1,-5.6,-37.3,-3.8,-40,-2.3,-43,-1.9,-43,4.8],
[4.8,2.2,5.3,9,9.4,10.2,14.8,10.3,19.2,7.2,21.9,4.1,22.7,2.6,20.8,-2.3,19.2,-5.3,14.8,-8.3,9.4,-10.2,6.7,-9.8,5.6,-6]]],
[p3,[[-38,5,-34.1,8.7,-31,9,-28.6,7.3,-27.6,5.5,-27.6,1.5,-30.8,-2,-34.1,-3.8,-37.8,-1.9,-41.3,-.8,-41.7,1.5],
[6.1,1.5,6.4,7.5,12.1,9,16.4,8.7,19.2,5.3,20.3,1.9,19.7,-1.9,14.8,-6,11,-7.5,7.2,-6]]],
[p4,[[-35.9,1.9,-32.6,5.3,-28.7,4.5,-30,1,-32.6,.4,-37,0,-37.3,.9],
[6.9,1.9,7.2,5.6,11,7.4,15.3,7,17.5,4.1,18.6,1.5,17.5,-1.9,14.3,-3.8,11.1,-4.9,8.4,-4.5,7.2,-2.3]]],
[p5,[[8.7,.8,8.5,4.9,12,5.8,15.9,5.3,17.8,2.6,17,-1.1,12,-2.6,9.9,-2.8]]],
[p6,[[12,2.2,14.2,3.6,15.6,3.1,14.8,1.5,13.3,0,11.8,0]]],
[g1,[[-23.7,-3.4,-22,4.5,-19.3,10.6,-14.4,12.2,-10,12.4,-5.2,11.3,-.6,8.6,.7,5.3,1.2,2.6,.2,-1.9,-4.7,-6.8,-8,-10.2,-14,-12.8,-14.4,-12.6,-20.5,-11,-23.2,-6.4],
[26.8,-1.5,29.5,3,30,4.1,26,10.5,27.9,13.2,32.8,14,33.3,14.9,36,14,37.5,12.7,36.9,10.5,37.5,9,37.5,-7.5,35,-7.7,31.7,-9.2,28.4,-7.5,26.8,-3.8]]],
[g2,[[-22.5,-2.3,-20.9,5.3,-18.2,9,-13.5,10.9,-8,10.9,-3.6,8.6,-.9,6.6,.2,3,-.9,-1.1,-5.2,-5.3,-10.1,-8.8,-16.6,-9.8,-20.4,-7.2]]],
[g3,[[-21.4,-.8,-20.3,4.5,-17.2,7.5,-13,9,-7,9,-3,6,-1.7,3.4,-2.5,-.4,-5.8,-3.8,-11.2,-7.4,-15.6,-7.9,-19.3,-5.3]]],
[g4,[[-19.7,-.8,-18.6,4.9,-16.2,6.4,-12.3,8,-7.3,8.2,-4.1,5.3,-3,2.6,-4.7,-1.1,-8,-4.5,-12.3,-6,-16.6,-5.6,-18.6,-3.4]]],
[g5,[[-18.1,0,-18.1,3.4,-16,5.3,-11.2,7.3,-6.9,7.4,-5,4.9,-4.4,1.5,-6.9,-1.9,-11.2,-4.1,-14.4,-4.5,-16.2,-3]]],
[g6,[[-16.6,0,-16.9,3.8,-14,5.6,-8,6.6,-6.4,4.1,-6.3,0,-7.5,-1.1,-11.7,-3,-13.3,-3.2,-15.5,-1.9]]],
[g2,[[33.6,5.6,34.4,7,37.5,6.2,37.5,.8,35.5,.4,33.9,2.6]]],
];
const ntpHighSolid = [
[-11.2,14.7,-13.3,14.6,-14.7,14,-16.9,14.7,-19.3,13.6,-26.3,11.8,-29.6,9.4,-32.6,6,-32,2.6,-33.2,-2.3,-31.5,-6,-27.1,-7.7,-26.3,-8.7,-22.9,-9.3,-20.5,-8.3,-17.2,-4.9,-15.6,-2.3,-14.2,2.6,-12.3,8.3,-11,11.6],
[-22.9,10.2,-21,9.9,-17.8,8.8,-15.1,6.8,-16,4.1,-16.6,-.8,-17.8,-1.9,-21.5,-5.7,-23.6,-5.9,-27.4,-3,-29,-.4,-29,5.3,-28,6.4,-25.9,7.5],
[17,12.8,18.9,14.4,21.8,12.6,24.8,12.5,26.7,11.6,29.5,9.2,32.2,6.6,34.4,3,33.6,2.2,30.4,.4,27.9,-3.8,25.4,-5,22.9,-4.8,20.5,-2.3,19.4,.4,18.3,3.8,18.3,6,17.4,9.4],
[20.5,9.9,21.6,10.1,24,9,25.7,6,27.9,4,27.9,2.6,24.5,-.3,22.9,.7,21.9,2.6,23.2,6.4,21.4,8.6],
[-43,6.9,-41.7,4.5,-43,1.2],
];
const ntpHighDotted = [
[-8,8.3,-1.5,11,3.9,10.6,9.4,8.6,12.4,6,13.5,1.5,12.4,-3,9.4,-6.8,2.9,-9.2,-2.5,-9.4,-7.4,-8.5,-11.2,-5.3,-11.5,0,-11.2,4.9],
[-6.4,8.6,-2.5,9.8,2.9,9.4,8.3,7.5,11,3.8,11.6,1.5,10.4,-1.5,6.7,-4.3,1.2,-4.9,-3.6,-5.4,-6.9,-4.1,-8.5,-.8,-9.6,4.1,-8,7.7],
[-3.3,4.1,-2,6,1.2,7,5.6,6,6.7,3,5.6,.7,2.9,.4,-.4,1.1,-2,2.6],
];
const ntpHighRed = [
[-43,4,-28.6,4.2,-12.3,4.4,-1.5,4,4,3.9,14.8,4.3,25.7,4.7,37.5,4.9],
[-43,-.4,-28.6,-.2,-12.3,0,-1.5,-.2,14.8,-.2,37.5,-.3],
[-43,-5.3,-31.3,-5.1,-17.8,-4.7,-6.9,-5,9.4,-5.3,25.7,-5.6,37.5,-5.8],
];
const ntpHighStar = [0, .1];
const ntpHighV: any[] = [
[2,-5,.15,.15,.15],
[3,-6,.3,.5,.6,.5],
[4,-7,.6,1.1,1.2,1.3,1.2,.5],[4,3,-.5,-.6,-.7,-.6,-.4],[4,-15,-.3,-.3,-.3,-.2],
[5,-8,.3,1.1,1.4,1.5,1.5,1.4,1.1,.3],[5,2,-.4,-1,-1.2,-1.3,-1.2,-.9,-.2],[5,-16,-.3,-.6,-.7,-.7,-.5,-.2],
[6,-8,.7,1.3,1.6,1.7,1.7,1.5,1.2,.3],[6,2,-.6,-1.2,-1.5,-1.6,-1.5,-1.2,-.6],[6,-16,-.4,-.7,-.8,-.8,-.6,-.3],
[7,-9,.3,.9,1.4,1.7,1.8,1.7,1.5,1.1,.3],[7,2,-.6,-1.2,-1.6,-1.7,-1.5,-1.2,-.7],[7,-16,-.5,-.8,-1,-.9,-.7,-.3],
[8,-9,.3,.8,1.4,1.7,1.7,1.6,1.4,1,.2],[8,2,-.6,-1.1,-1.5,-1.6,-1.4,-1.1,-.6],[8,-16,-.4,-.7,-.9,-.7,-.5],
[9,-9,.2,.6,1.2,1.5,1.5,1.4,1.1,.7],[9,2,-.4,-.9,-1.2,-1.3,-1.2,-.8,-.3],[9,-16,-.3,-.5,-.6,-.5,-.3],
[10,-8,.4,.9,1.2,1.2,1.1,.8,.4],[10,2,-.3,-.7,-1,-1.1,-.9,-.5],[10,-15,-.3,-.4,-.4,-.3],
[11,-7,.5,.8,.8,.8,.5,.2],[11,3,-.5,-.7,-.7,-.4,-.2],[11,-15,-.2,-.2],
[12,-8,.2,.4,.4,.4,.3,.2],[12,3,-.3,-.4,-.4,-.3],
[13,-7,.15,.15,.15,.15],[6,13,.25,.25],[8,13,.25,.25],
];

/* ---------- TPd, low ---------- */
const tpdLowFills: any[] = [
[p1,[[-25,1.2,-24.5,3.4,-21,4.2,-18.6,5.1,-15.8,4,-15.3,3,-16.9,-.2,-17.6,-1.6,-21,-3,-24.5,-3.9,-25.7,-3,-25.2,-1.2]]],
[g1,[[-8.5,1.6,-7,4.8,-3.5,6.9,.7,8.3,6.4,8.3,10.6,7.8,14.8,6.6,18,5.1,17.6,1.9,15.9,-1.2,13.8,-4.4,13.4,-7.3,9.2,-8,6.4,-9.9,3.5,-9.4,1.4,-8.2,-4.2,-9.1,-4.9,-7.6,-6.4,-4,-7.8,-1.2]]],
[g2,[[-2.8,.9,-2.8,1.9,0,3.2,2.8,3.5,5.6,3.9,8.5,2.6,9.2,1.6,8.5,-.5,6.4,-1.2,2.1,0,.4,-.5,-.3,-1.6,-1.8,-1.2],
[2,-3.5,3.5,-2.6,5.6,-2.5,5.6,-3.4,4.2,-4.4,2.1,-4.6]]],
];
const tpdLowSolid = [
[-28.2,7,-25.7,9.4,-23.3,10.5,-19,9.9,-15.7,10.3,-15.5,6.2,-15.9,4.0,-17.6,2.3,-19.4,-.5,-21.4,-.1,-21.3,1.9,-22.7,2.3,-24.2,1.1,-25.1,2.3,-28.2,2.8,-29.6,5],
[-24.5,-.2,-23.4,.5,-21.9,-.2,-22.7,-1.9,-23.9,-1.6],
[-19.8,-2.7,-18.8,-2.1,-18,-3.4,-19.2,-4.8,-19.8,-3.7],
[7.8,19.7,7.4,18.6,9.2,17.2,14.1,16.3,14.7,17.7,13,18.8,13,19.7],
[6.4,14.8,7.5,16.2,9.2,16.2,11.7,14.3,13.8,13.8,17.4,14.8,20.2,13.4,24.8,12.5,28,11.6,30.4,9.6,33.1,8.2,32.2,4.1,34.3,3,34.6,1.2,32.8,-1.2,29.6,-5.8,26.8,-7.3,21,-8.5,19.4,-9.3,18.3,-8.7,17.6,-6.2,18.3,.2,18.6,8,14.1,11,8,12.5],
[22,4.8,23.1,5.4,23.8,4.8,24.5,1.8,23.6,1.5,22.2,2],
[26.7,3.9,27.9,5.1,29.1,5.1,28.2,3.7,27.1,3.5],
[24,-2.7,25,-1.9,25.2,-3.4,24.1,-4.1],
];
const tpdLowDotted = [
[-12,-1.6,-10.2,4.4,-7.8,7.3,-3.5,9.2,2.1,10.7,5.6,9.4,9.9,7.3,13.1,3.7,13.3,-.5,11.3,-3.4,7.1,-6.5,2.8,-7.8,0,-9.2,-2.5,-8.9,-4.9,-7.3,-7.1,-7.8,-9.2,-6.1,-11.3,-3.4],
[-8.3,1.6,-6.4,6.2,-1.4,7.6,3.5,8.1,8.5,6.6,10.6,3.7,11,.5,8.5,-2,3.5,-4.4,-1.8,-5.3,-6.4,-3.4,-7.8,-1.2],
[-.7,3.7,1.1,4.9,3.2,4.8,3.9,3.7,1.4,2.6,-.6,2.6],
];
const tpdLowGreen = [
[-51.5,11.3,-48,11.3,-44.5,10.9,-39.5,9.7,-35.3,9.1,-28.2,6.9,-21,6.5,-15.5,7.1,-10.6,8.3,-4.9,9,2.1,9,7.1,8.5,12.7,7.1,18.4,6.4,26.3,6.4,33.1,8.1],
[37.1,9,41.8,9.8,46.1,9.6],
[-51.5,-13.5,-50.5,-13.6,-46.6,-13.4,-44.3,-13.8],
[-40.2,-15.7,-37,-14.5,-33.8,-15,-28.9,-15.7,-23.3,-14.5,-19.8,-13.6,-17,-13.8,-14.1,-15.8,-11.7,-16.5,-11.5,-17.6,-6.4,-19.3,-4,-19.1,-3.8,-20.4,-2.8,-20.7,-.4,-19.7,2.1,-20.7,6,-20.7,8.1,-22.5,9.2,-22.2,12.2,-23.4,11.5,-24.3],
[46.1,-18.4,43.8,-19.3,45.5,-20.5,43.8,-21.3,40,-22.4,39.7,-24.3],
];
const tpdLowLabels: any[] = [[35,9.0,"280",22],[-42.4,-14.4,"290",-58]];
const tpdLowRed = [
[-51.5,4.3,-40.8,4.4,-30.2,4,-10.6,3.7,17.6,4,29.6,4.5,46.1,4.2],
[-51.5,-.9,-38.8,-.6,-17.6,-.9,3.5,-.7,17.6,-.5,31.8,-.1,46.1,-.8],
[-51.5,-6.5,-38.8,-6.6,-19,-5.9,3.5,-6.2,26.3,-6.3,36.7,-6.6,46.1,-7.4],
];
const tpdLowStar = [0, 0];
const tpdLowV: any[] = [[5,-1,.2],[5,2,.2],[6,-2,.2,.2,.2,.2,.2,.2],[7,-3,.2,.22,.25,.25,.25,.22,.2],[8,-3,.2,.25,.3,.3,.25,.2],[9,-3,.2,.25,.3,.35,.3,.25,.2],[10,-2,.2,.2,.2,.2,.2],[11,-1,.18,.2,.2,.18],[3,3,.15]];

/* ---------- TPd, high ---------- */
const tpdHighFills: any[] = [
[g1,[[-46.4,4.7,-44.5,7.1,-38.7,8.4,-35.5,7.1,-33.9,5.5,-35.2,3.2,-37.2,.4,-42,-1.2,-42.6,-2.1,-44.8,-.6,-45.8,2.4]]],
[p1,[[-27.5,.8,-26.2,5.1,-23.3,7.7,-17.8,8.4,-13.5,7.2,-12.3,5.1,-12,1.2,-13.5,-1.6,-14,-5.5,-15.2,-7.9,-17.8,-10.6,-22.3,-10.2,-24.2,-9.1,-27,-6.3,-26,-2.4]]],
[p2,[[-23.7,.4,-21.7,5.4,-19.2,5.6,-15.7,4.9,-15.7,0,-17.9,-2,-21.7,-3.1,-22.7,-1.6]]],
[g1,[[-7.5,1.2,-5.6,3.5,-.5,6.3,2.8,8.3,5.1,10.4,8.6,10.2,12.4,7.9,17.6,6.1,20.2,3.5,21.9,.4,20.8,-5.5,18.9,-9.3,14.5,-11.2,10,-12.6,9.2,-14.2,6.5,-14.2,-.5,-13.4,-5.6,-10.6,-6.4,-6.9,-7.7,-2.9]]],
[g2,[[-4.3,0,-3.7,2.8,-.5,4.8,4.5,6.3,10.7,6,14.5,6,16.5,3.3,17.3,1.5,17.1,-4.7,15.2,-7.1,13,-10.2,8.6,-11,2.1,-10.2,-1.4,-8.7,-3.8,-5.2]]],
[g3,[[0,-4.7,1.4,-1.6,1.2,-.4,4.1,1.2,6.4,.4,8.6,.2,9.6,-2.4,9.6,-5.5,8.2,-7.9,6.4,-8.3,2.1,-7.1]]],
[p1,[[31.5,2.4,31.8,5,33.9,5.1,35.7,2.8,38.9,2,42.5,.8,41.5,-1.2,39.5,-1.2,35.9,-3.5,35.2,-5,34,-5,34.4,-1.2]]],
];
const tpdHighSolid = [
[-30.1,5.5,-28.8,7.9,-26.2,8.9,-22.4,11,-20,10.9,-17.4,10.5,-15.8,11.6,-15.8,9.8,-13.9,7.8,-13.4,6.3,-14.7,2.4,-17.6,-2,-19,-6.7,-21,-10,-24,-10,-24.6,-7.9,-27,-5.1,-30.6,0.6,-31,1],
[-27.1,4.3,-25,5.4,-22.4,6.9,-20.8,6.8,-19,4.8,-18.2,2,-18.7,-.6,-21.4,-3.1,-23.7,-3.5,-26.2,-2,-27.4,.2,-26.6,2.8],
[13.7,11.4,15.5,12.4,15.9,14,19.5,14.2,23.7,13.2,29,11.6,33.7,8.6,37.5,4.3,37.9,2.6,35.2,-.4,33.9,-3.1,30.9,-8.3,28,-9.4,24,-11.8,21.9,-11.6,19.9,-9.7,18.9,-4.7,17.8,1.9,16.4,6.5,15.9,9,14.5,10.4],
[18.6,7.8,20,8.7,23,9.5,25,8.7,28.9,7.3,30.2,5.1,31,-.2,27.9,-6.7,24.2,-6.9,21.5,-5.3,19.3,-.4,18.9,2.8],
];
const tpdHighDotted = [
[-12.4,-3.1,-11.7,2.4,-10.1,7.2,-6,9.8,-1.4,10.5,4,10.4,9.2,9,13,6.1,14.5,.8,13.9,-1.6,11.4,-5.5,7.2,-8.9,2.8,-10.1,-5.6,-9.5,-9.8,-7.9,-12,-5.5],
[-10.3,.2,-8.5,6.1,-2.4,9.2,1.4,9.5,6.4,8.1,10,6.1,12.6,1.5,11.4,-2.4,8.6,-4.9,3.5,-5.1,-.6,-5.3,-7.2,-5.3,-9.8,-3.5],
[-3.8,1.7,-2.8,4.1,.2,6.5,2.1,6.7,6.4,5.4,7.5,3.9,6.5,1.4,3.5,.6,.8,0,-1.1,-.6,-3.1,0],
];
const tpdHighGreen = [
[-46.9,7.2,-43,7.1,-39.8,5.9,-34.6,3.1,-30,.9,-23.7,.2,-18.7,1.5,-10.8,5.3,-4.3,6.9,.8,6.9,6.6,5.5,12.4,2.4,17.6,0,21.5,-.8,26.6,-.6,31.8,.8,35.7,2.2,39.5,3.1,41.5,3.1],
[-45.5,-24.1,-42.9,-23.5,-41.9,-22.9,-42.4,-21.2,-40.6,-21.2,-38.9,-23,-34.4,-23.4],
[-31.8,-21.5,-30.1,-20.9,-27.2,-20.3,-26.9,-21,-25.7,-20.7,-27.2,-21.1,-27.5,-21.9,-24.6,-22.9,-23.3,-21.5,-23.7,-20.9,-21.7,-19.7,-19.7,-19.6,-17.5,-20.3,-17.3,-22.3,-15.8,-22.7,-14.8,-20.9,-13.9,-21.5,-13.6,-23.2,-12.3,-24.1],
];
const tpdHighLabels: any[] = [[-32.4,-23,"290",50]];
const tpdHighRed = [
[-46.9,3.3,-36.6,3.8,-17.2,3.7,2.1,3.3,15,3.6,31,4.1,41.5,3.9],
[-46.9,-1.7,-36.6,-1,-17.2,-1,-1,-1.4,8.6,-1.2,21.5,-.9,41.5,-1],
[-46.9,-6.6,-40,-6.2,-14,-5.9,2.1,-6.2,21.5,-6.2,31,-6.6,41.5,-6.6],
];
const tpdHighStar = [0, 0];
const tpdHighV: any[] = [
[4,-1,.18,.2,.2,.2,.18],[5,0,.25,.25,.25,.25],[5,-9,-.18,-.2],[6,-2,.3,.4,.4,.4,.4,.4,.35],[6,-9,-.18,-.2,-.2],
[7,-2,.4,.5,.5,.5,.5,.5,.5,.4],[7,-9,-.2,-.2,-.2],[8,-2,.3,.6,.6,.6,.6,.6,.6,.4],[8,-9,-.2,-.2,-.2],
[9,-2,.4,.6,.8,.8,.8,.8,.6,.4],[10,-1,.5,.6,.6,.6,.5,.4],[11,-1,.3,.3,.35,.35,.3],[12,-1,.2,.2,.25,.25,.2],[13,0,.15,.2,.2,.15],
];

/* ---------- colour bars ---------- */
const cbColors = [g5, g4, g3, g2, g1, wh, wh, p1, p2, p3, p4, p5];
const cbDivTicks: any[] = [[0,"−3.0"],[1,"−2.0"],[3,"−1.0"],[4,"−0.5"],[5,"−0.2"],[7,"0.2"],[8,"0.5"],[9,"1.0"],[11,"2.0"],[12,"3.0"]];
const cbNtpTicks: any[] = [[0,"−3"],[2,"−2"],[4,"−1"],[6,"0"],[8,"1"],[10,"2"],[12,"3"]];
const cbTpdTicks: any[] = [[0,"−0.3"],[2,"−0.2"],[4,"−0.1"],[6,"0.0"],[8,"0.1"],[10,"0.2"],[12,"0.3"]];

const pairs = (f: number[]) => { const o: number[][] = []; for (let i = 0; i + 1 < f.length; i += 2) o.push([f[i], f[i + 1]]); return o; };
const FONT = "DejaVu Sans";
const BLUE = "#5b8fe8", GREEN = "#5fcfa8", RED = "#a32f33", YEL = "#f5c800", INK = "#222222";

const vert = (rows: any[]) => { const o: number[][] = []; rows.forEach(([r, k0, ...vs]) => vs.forEach((v: number, i: number) => o.push([r, k0 + i, 0, v]))); return o; };
const both = (rows: any[]) => { const o: number[][] = []; rows.forEach(([r, k0, uv]) => pairs(uv).forEach(([u, v], i) => { if (u || v) o.push([r, k0 + i, u, v]); })); return o; };

const panels: any[] = [
 { g:[20,156,858,398], x:[-50.2,48.8], y:[-24.3,20.4], firstRow:0, font:18, nameFont:16, nameGap:25, axisColor:"#777", axisW:3, labelFont:17, starSize:11,
   fills:[[g1,divLowG1],[wh,divLowHoles],[g2,divLowG2],[g3,divLowG3],[g4,divLowG4],[g5,divLowG5],[p1,divLowP1]], solid:divLowSolid, dotted:divLowDotted, iso:divLowBlue, isoColor:BLUE, labels:divLowLabels, red:divLowRed, yellow:divLowYellow, star:divLowStar, q:both(divLowQuiver) },
 { g:[14,612,871,460], x:[-44.8,42.6], y:[-24.1,20.5], firstRow:0, font:21, nameFont:19, nameGap:30, axisColor:"#777", axisW:3, labelFont:20, starSize:18,
   fills:[[g1,divHighG1],[wh,divHighHoles],[g2,divHighG2],[g3,divHighG3],[g4,divHighG4],[g5,divHighG5],[p1,divHighP1]], solid:divHighSolid, dotted:divHighDotted, iso:divHighBlue, isoColor:BLUE, labels:divHighLabels, red:divHighRed, yellow:divHighYellow, star:divHighStar, q:both(divHighQuiver) },
 { g:[934,155,857,400], x:[-49.3,43.7], y:[-24.4,17.9], firstRow:1, font:20, nameFont:17, nameGap:26, axisColor:"#333", axisW:2, labelFont:17, starSize:18,
   fills:ntpLowFills, solid:ntpLowSolid, dotted:ntpLowDotted, iso:[], isoColor:BLUE, labels:[], red:ntpLowRed, yellow:[], star:ntpLowStar, q:vert(ntpLowV) },
 { g:[940,610,851,464], x:[-43,37.5], y:[-24.3,18.4], firstRow:1, font:22, nameFont:20, nameGap:31, axisColor:"#777", axisW:2, labelFont:20, starSize:20,
   fills:ntpHighFills, solid:ntpHighSolid, dotted:ntpHighDotted, iso:[], isoColor:BLUE, labels:[], red:ntpHighRed, yellow:[], star:ntpHighStar, q:vert(ntpHighV) },
 { g:[1833,147,894,413], x:[-51.5,46.1], y:[-24.3,19.7], firstRow:0, font:20, nameFont:20, nameGap:25, axisColor:"#222", axisW:2, labelFont:19, starSize:20,
   fills:tpdLowFills, solid:tpdLowSolid, dotted:tpdLowDotted, iso:tpdLowGreen, isoColor:GREEN, labels:tpdLowLabels, red:tpdLowRed, yellow:[], star:tpdLowStar, q:vert(tpdLowV) },
 { g:[1846,608,886,462], x:[-46.9,41.5], y:[-24.2,20.3], firstRow:0, font:21, nameFont:20, nameGap:28, axisColor:"#222", axisW:2, labelFont:19, starSize:20,
   fills:tpdHighFills, solid:tpdHighSolid, dotted:tpdHighDotted, iso:tpdHighGreen, isoColor:GREEN, labels:tpdHighLabels, red:tpdHighRed, yellow:[], star:tpdHighStar, q:vert(tpdHighV) },
];
const colorbars: any[] = [
 { g:[193,1130,536,35], ticks:cbDivTicks, name:"contribution due to div [PVU day⁻¹]", font:17.5, nameFont:19.2, gap:28 },
 { g:[1092,1134,605,31], ticks:cbNtpTicks, name:"PVbg advection by nTP [PVU day⁻¹]", font:20, nameFont:20.4, gap:30 },
 { g:[2029,1127,574,28], ticks:cbTpdTicks, name:"PVbg advection by TPd [PVU day⁻¹]", font:18.5, nameFont:19.3, gap:29 },
];
const titles: any[] = [["div",453,70,0,84],["nTP",1363,70,0,84],["TPd",2254,70,0,84],["LOW",2799,377,-Math.PI/2,84],["HIGH",2799,834,-Math.PI/2,84]];
const STAR = "path://M12 0 L15 8.6 L24 8.8 L16.8 14.3 L19.4 23 L12 17.8 L4.6 23 L7.2 14.3 L0 8.8 L9 8.6 Z";

const closeRing = (f: number[], p: any) => {
  const a = f[0], b = f[1], c = f[f.length - 2], d = f[f.length - 1];
  const onEdge = (lo: number, la: number) => lo <= p.x[0] + .5 || la >= p.y[1] - .5;
  return onEdge(a, b) && onEdge(c, d) ? f : [...f, a, b];
};

function buildOption() {
  const grid: any[] = [], xAxis: any[] = [], yAxis: any[] = [], series: any[] = [];
  panels.forEach((p, n) => {
    grid.push({ left:p.g[0], top:p.g[1], width:p.g[2], height:p.g[3], containLabel:false });
    const zeroShift = (0 - p.x[0]) / (p.x[1] - p.x[0]) * p.g[2] - p.g[2] / 2;
    xAxis.push({ gridIndex:n, type:"value", min:p.x[0], max:p.x[1], position:"bottom", splitLine:{show:false}, name:"pseudo lon", nameLocation:"middle", nameGap:p.nameGap,
      nameTextStyle:{fontFamily:FONT,fontSize:p.nameFont,color:"#000",padding:[0,0,0,2*zeroShift]},
      axisLine:{show:true,onZero:false,lineStyle:{color:p.axisColor,width:p.axisW}},
      axisTick:{show:true,length:5,customValues:[-30,0,30],lineStyle:{color:"#222",width:1.2}},
      axisLabel:{show:true,margin:7,customValues:[-30,0,30],fontFamily:FONT,fontSize:p.font,color:"#000",formatter:(v:number)=>`${v}°`} });
    yAxis.push({ gridIndex:n, type:"value", min:p.y[0], max:p.y[1], show:false, splitLine:{show:false} });
    const base = { xAxisIndex:n, yAxisIndex:n, silent:true, animation:false };
    p.fills.forEach(([color, shapes]: any) => series.push({ ...base, type:"custom", clip:true, data:shapes.map((_:any,i:number)=>[i]),
      renderItem:(_:any, api:any)=>({ type:"polygon", shape:{ points:pairs(shapes[api.value(0)]).map((c)=>api.coord(c)), smooth:0.3 }, style:{ fill:color } }) }));
    const dots: number[][] = [];
    gridLats.slice(p.firstRow).forEach((la)=>gridLons.forEach((lo)=>{ if (lo>p.x[0] && lo<p.x[1]) dots.push([lo,la]); }));
    series.push({ ...base, type:"scatter", data:dots, symbol:"circle", symbolSize:3.2, itemStyle:{color:"#111"}, z:4 });
    series.push({ ...base, type:"custom", z:4, clip:true, data:p.q.map((_:any,i:number)=>[i]), renderItem:(_:any, api:any)=>{
      const [r,k,u,v] = p.q[api.value(0)];
      const lo = gridLons[k+20], la = gridLats[r];
      const a = api.coord([lo,la]), b = api.coord([lo+u,la+v]);
      const dx=b[0]-a[0], dy=b[1]-a[1], len=Math.hypot(dx,dy)||1;
      const w=Math.min(3.2,Math.max(1.1,len*.22)), nx=-dy/len*w, ny=dx/len*w;
      return { type:"polygon", shape:{points:[[a[0]+nx,a[1]+ny],[b[0],b[1]],[a[0]-nx,a[1]-ny]]}, style:{fill:"#000"} };
    }});
    const line = (flat:number[], color:string, width:number, type:any, z:number, smooth:number)=>series.push({ ...base, type:"line", data:pairs(flat), showSymbol:false, symbol:"none", smooth, clip:true, z, lineStyle:{color,width,type} });
    p.red.forEach((f:number[])=>line(f,"rgba(200,120,120,.45)",2.8,"solid",5,.3));
    p.red.forEach((f:number[])=>line(f,RED,1.2,"solid",5,.3));
    p.solid.forEach((f:number[])=>line(closeRing(f,p),INK,1.3,"solid",6,.3));
    p.dotted.forEach((f:number[])=>line(closeRing(f,p),INK,1.3,[2.5,1.2],6,.3));
    p.iso.forEach((f:number[])=>line(f,p.isoColor,2.4,"solid",7,.25));
    p.yellow.forEach((f:number[])=>line(f,YEL,2.4,"solid",7,.25));
    if (p.labels.length) series.push({ ...base, type:"custom", z:8, clip:true, data:p.labels.map((_:any,i:number)=>[i]), renderItem:(_:any, api:any)=>{
      const [lo,la,t,rot]=p.labels[api.value(0)]; const c=api.coord([lo,la]);
      return { type:"text", x:c[0], y:c[1], rotation:rot*Math.PI/180, style:{ text:t, fill:p.isoColor, fontFamily:FONT, fontSize:p.labelFont, align:"center", verticalAlign:"middle" } };
    }});
    series.push({ ...base, type:"scatter", data:[p.star], symbol:STAR, symbolSize:p.starSize, itemStyle:{color:"#1f77b4"}, z:9 });
  });
  colorbars.forEach((c, m) => {
    const n = panels.length + m;
    const vals = c.ticks.map((t:any)=>t[0]);
    const txt = new Map<number,string>(c.ticks);
    grid.push({ left:c.g[0], top:c.g[1], width:c.g[2], height:c.g[3], containLabel:false });
    xAxis.push({ gridIndex:n, type:"value", min:0, max:12, splitLine:{show:false}, name:c.name, nameLocation:"middle", nameGap:c.gap,
      nameTextStyle:{fontFamily:FONT,fontSize:c.nameFont,color:"#000"}, axisLine:{show:false},
      axisTick:{show:true,length:5,customValues:vals,lineStyle:{color:"#222"}},
      axisLabel:{show:true,margin:8,customValues:vals,hideOverlap:false,showMinLabel:true,showMaxLabel:true,fontFamily:FONT,fontSize:c.font,color:"#000",formatter:(v:number)=>txt.get(v) ?? ""} });
    yAxis.push({ gridIndex:n, type:"value", min:0, max:1, show:false, splitLine:{show:false} });
    const cells:any[] = cbColors.map((col,i)=>({ col, pts:[[i,0],[i+1,0],[i+1,1],[i,1]] }));
    cells.unshift({ col:g6, pts:[[0,0],[0,1],[-.6,.5]] });
    cells.push({ col:p6, pts:[[12,0],[12,1],[12.6,.5]] });
    cells.push({ col:"none", stroke:"#555", pts:[[0,0],[12,0],[12.6,.5],[12,1],[0,1],[-.6,.5]] });
    series.push({ xAxisIndex:n, yAxisIndex:n, silent:true, type:"custom", clip:false, data:cells.map((_,i)=>[i]), renderItem:(_:any, api:any)=>{
      const s=cells[api.value(0)];
      return { type:"polygon", shape:{points:s.pts.map((q:number[])=>api.coord(q))}, style:{fill:s.col, stroke:s.stroke ?? "rgba(90,90,90,.35)", lineWidth:s.stroke?1.5:.6} };
    }});
  });
  const graphic:any[] = titles.map(([t,x,y,rot,size])=>({ type:"text", x, y, rotation:rot, z:20, style:{ text:t, fill:"#2e74b5", fontFamily:"Liberation Sans", fontWeight:"bold", fontSize:size, align:"center", verticalAlign:"middle" } }));
  graphic.push({ type:"rect", shape:{x:2220,y:597,width:190,height:10}, style:{fill:"#fff"}, z:20 });
  return { animation:false, backgroundColor:"#fff", grid, xAxis, yAxis, series, graphic };
}

export default function App() {
  const ref = useRef<HTMLDivElement>(null);
  useEffect(() => {
    document.body.style.margin = "0";
    const chart = echarts.init(ref.current!, null, { renderer: "svg" });
    chart.setOption(buildOption() as any);
    return () => chart.dispose();
  }, []);
  return <div ref={ref} style={{ width: 2834, height: 1242, position: "absolute", left: 0, top: 0 }} />;
}
